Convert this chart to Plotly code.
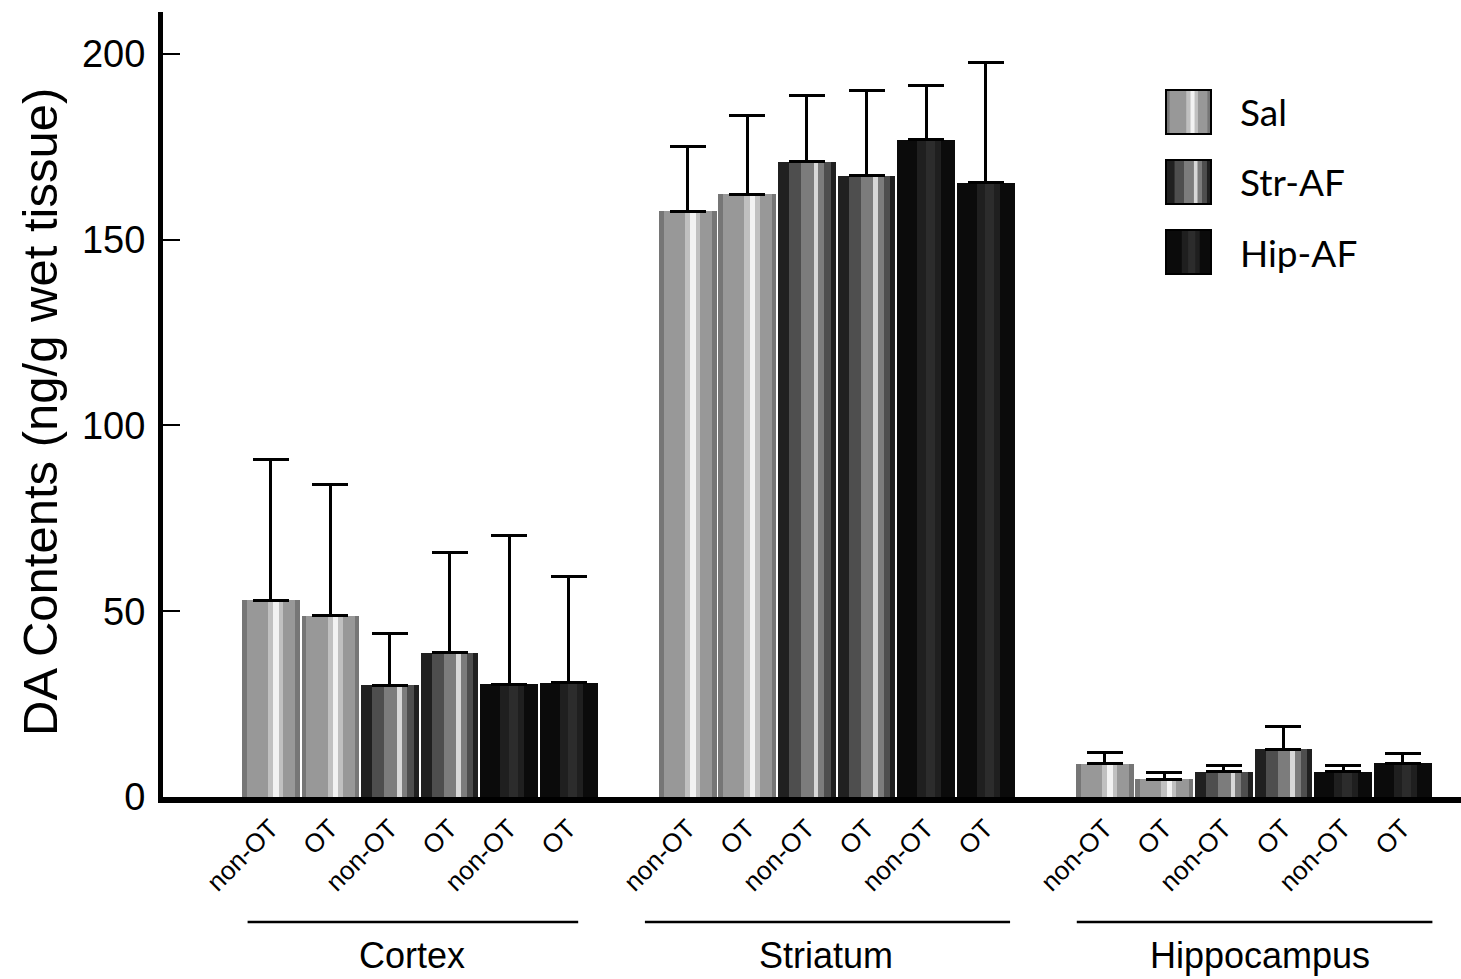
import plotly.graph_objects as go

# ---------------- data ----------------
regions = ["Cortex", "Striatum", "Hippocampus"]
series = ["Sal", "Str-AF", "Hip-AF"]
conditions = ["non-OT", "OT"]

# means (ng/g wet tissue), order per region: non-OT, OT
sal_mean = [53.0, 48.8, 157.7, 162.3, 8.9, 4.8]
str_mean = [30.1, 38.8, 171.0, 167.2, 6.8, 12.9]
hip_mean = [30.3, 30.8, 176.9, 165.4, 6.8, 9.1]

# upper error (SD) values
sal_err = [37.9, 35.2, 17.3, 21.1, 3.2, 1.9]
str_err = [14.0, 27.0, 17.9, 22.9, 1.8, 6.2]
hip_err = [40.0, 28.5, 14.5, 32.3, 1.8, 2.5]

# bar slot positions along the x axis (6 slots per region, 1 slot gap)
sal_pos = [0, 1, 7, 8, 14, 15]
str_pos = [2, 3, 9, 10, 16, 17]
hip_pos = [4, 5, 11, 12, 18, 19]

tick_pos = sorted(sal_pos + str_pos + hip_pos)
tick_text = [conditions[i % 2] for i in range(len(tick_pos))]

region_line_x = [(-0.39, 5.16), (6.28, 12.41), (13.53, 19.5)]
region_label_x = [2.37, 9.32, 16.61]

# ---------------- style ----------------
BW = 0.97
# shading layers: (color, width fraction, center fraction)
layers = {
    "Sal": [("#767676", 1.0, 0.5), ("#989898", 0.84, 0.5), ("#c0c0c0", 0.26, 0.58), ("#f2f2f2", 0.09, 0.59)],
    "Str-AF": [("#202020", 1.0, 0.5), ("#4e4e4e", 0.72, 0.55), ("#7c7c7c", 0.4, 0.6), ("#d8d8d8", 0.08, 0.66)],
    "Hip-AF": [("#0b0b0b", 1.0, 0.5), ("#1f1f1f", 0.4, 0.55), ("#2c2c2c", 0.16, 0.57)],
}

fig = go.Figure()

for name, pos, mean in [("Sal", sal_pos, sal_mean),
                        ("Str-AF", str_pos, str_mean),
                        ("Hip-AF", hip_pos, hip_mean)]:
    for color, wf, cf in layers[name]:
        w = BW * wf
        off = -BW / 2 + cf * BW - w / 2
        fig.add_trace(go.Bar(
            x=pos, y=mean, width=w, offset=off,
            marker=dict(color=color, line=dict(width=0)),
            showlegend=False, hoverinfo="skip", name=name,
        ))

for name, pos, mean, err in [("Sal", sal_pos, sal_mean, sal_err),
                             ("Str-AF", str_pos, str_mean, str_err),
                             ("Hip-AF", hip_pos, hip_mean, hip_err)]:
    fig.add_trace(go.Bar(
        x=pos, y=mean, width=BW,
        marker=dict(color="rgba(0,0,0,0)", line=dict(width=0)),
        error_y=dict(type="data", symmetric=False, array=err,
                     arrayminus=[0] * len(err), color="black",
                     thickness=3, width=18),
        showlegend=False, name=name,
    ))

# ---------------- geometry helpers ----------------
W, H = 1461, 979
ML, MR, MT, MB = 163, 0, 12, 182
PW, PH = W - ML - MR, H - MT - MB


def px(x):
    return (x - ML) / PW


def py(y):
    return (H - MB - y) / PH


shapes = []
annotations = []

# region underlines and labels
for (x0, x1), xl, reg in zip(region_line_x, region_label_x, regions):
    shapes.append(dict(type="line", xref="x", yref="paper", x0=x0, x1=x1,
                       y0=py(922), y1=py(922), line=dict(color="black", width=2.5)))
    annotations.append(dict(xref="x", yref="paper", x=xl, y=py(955), text=reg,
                            showarrow=False, xanchor="center", yanchor="middle",
                            font=dict(family="Liberation Sans, Arial", size=36, color="black")))

# manual legend with large swatches
leg_y = [112, 182, 252]
sw_x0, sw_x1 = 1166, 1211
for name, yc in zip(series, leg_y):
    for color, wf, cf in layers[name]:
        w = (sw_x1 - sw_x0) * wf
        c = sw_x0 + (sw_x1 - sw_x0) * cf
        shapes.append(dict(type="rect", xref="paper", yref="paper",
                           x0=px(c - w / 2), x1=px(c + w / 2),
                           y0=py(yc + 22), y1=py(yc - 22),
                           fillcolor=color, line=dict(width=0)))
    shapes.append(dict(type="rect", xref="paper", yref="paper",
                       x0=px(sw_x0), x1=px(sw_x1), y0=py(yc + 22), y1=py(yc - 22),
                       fillcolor="rgba(0,0,0,0)", line=dict(color="black", width=2)))
    annotations.append(dict(xref="paper", yref="paper", x=px(1238), y=py(yc),
                            text=name, showarrow=False, xanchor="left", yanchor="middle",
                            font=dict(family="Lato, Open Sans", size=37, color="black")))

# y-axis title
annotations.append(dict(xref="paper", yref="paper", x=px(40), y=py(412),
                        text="DA Contents (ng/g wet tissue)", textangle=-90,
                        showarrow=False, xanchor="center", yanchor="middle",
                        font=dict(family="Liberation Sans, Arial", size=49, color="black")))

fig.update_layout(
    width=W, height=H,
    margin=dict(l=ML, r=MR, t=MT, b=MB, autoexpand=False),
    paper_bgcolor="white", plot_bgcolor="white",
    barmode="overlay", bargap=0,
    showlegend=False,
    shapes=shapes, annotations=annotations,
    xaxis=dict(range=[-1.81, 19.98], tickmode="array", tickvals=tick_pos,
               ticktext=tick_text, tickangle=-45, showgrid=False, zeroline=False,
               showline=True, linecolor="black", linewidth=6, ticks="",
               tickfont=dict(family="Liberation Sans, Arial", size=26, color="black"),
               fixedrange=True),
    yaxis=dict(range=[0, 211.3], tickmode="array", tickvals=[0, 50, 100, 150, 200],
               showgrid=False, zeroline=False, showline=True, linecolor="black",
               linewidth=5, ticks="inside", ticklen=17, tickwidth=2, tickcolor="black",
               ticklabelstandoff=5,
               tickfont=dict(family="Liberation Sans, Arial", size=38, color="black"),
               fixedrange=True),
)

fig.write_html("out.html")
